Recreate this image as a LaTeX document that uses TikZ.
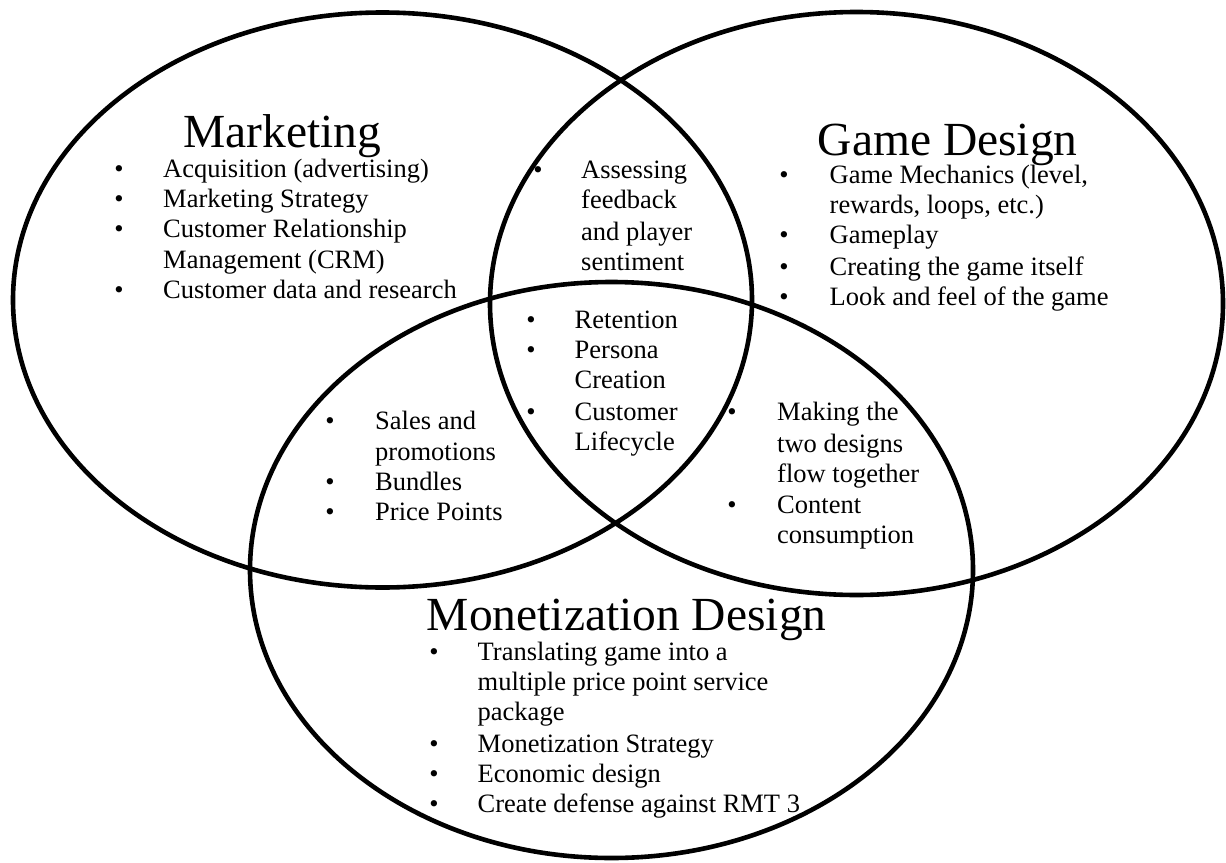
\documentclass[tikz,border=0pt]{standalone}
\usepackage{fontspec}
\setmainfont{Liberation Serif}
\begin{document}
\begin{tikzpicture}[x=1pt,y=-1pt,
  ring/.style={draw=black,line width=4.6pt},
  heading/.style={font=\fontsize{47.5}{50}\selectfont,inner sep=0pt,anchor=base west},
  entry/.style={font=\fontsize{26.5}{30}\selectfont,inner sep=0pt,anchor=base west},
  dot/.style={font=\fontsize{26.5}{30}\selectfont,inner sep=0pt,anchor=base}]
  % canvas
  \fill[white] (0,0) rectangle (1226,862);
  \useasboundingbox (0,0) rectangle (1226,862);

  % the three overlapping sets
  \draw[ring] (382.5,300) ellipse [x radius=369.5pt, y radius=287.5pt];
  \draw[ring] (856.5,303.5) ellipse [x radius=366.5pt, y radius=291.5pt];
  \draw[ring] (611.5,570) ellipse [x radius=361.5pt, y radius=288pt];

  % Marketing
  \node[heading] (mkt) at (183,147) {Marketing};
  \node[dot] (mkb1) at (119,177) {•};
  \node[entry] (mk1) at (163,177) {Acquisition (advertising)};
  \node[dot] (mkb2) at (119,207) {•};
  \node[entry] (mk2) at (163,207) {Marketing Strategy};
  \node[dot] (mkb3) at (119,237) {•};
  \node[entry] (mk3) at (163,237) {Customer Relationship};
  \node[entry] (mk3b) at (163,268) {Management (CRM)};
  \node[dot] (mkb4) at (119,298) {•};
  \node[entry] (mk4) at (163,298) {Customer data and research};

  % Game Design
  \node[heading] (gd) at (817.6,155) {Game Design};
  \node[dot] (gdb1) at (784,183) {•};
  \node[entry] (gd1) at (829.5,183) {Game Mechanics (level,};
  \node[entry] (gd1b) at (829.5,213) {rewards, loops, etc.)};
  \node[dot] (gdb2) at (784,243) {•};
  \node[entry] (gd2) at (829.5,243) {Gameplay};
  \node[dot] (gdb3) at (784,275) {•};
  \node[entry] (gd3) at (829.5,275) {Creating the game itself};
  \node[dot] (gdb4) at (784,305) {•};
  \node[entry] (gd4) at (829.5,305) {Look and feel of the game};

  % Marketing and Game Design
  \node[dot] (mgb1) at (538,178) {•};
  \node[entry] (mg1) at (581,178) {Assessing};
  \node[entry] (mg1b) at (581,208) {feedback};
  \node[entry] (mg1c) at (581,240) {and player};
  \node[entry] (mg1d) at (581,270) {sentiment};

  % all three
  \node[dot] (allb1) at (531,328) {•};
  \node[entry] (all1) at (574.5,328) {Retention};
  \node[dot] (allb2) at (531,358) {•};
  \node[entry] (all2) at (574.5,358) {Persona};
  \node[entry] (all2b) at (574.5,388) {Creation};
  \node[dot] (allb3) at (531,420) {•};
  \node[entry] (all3) at (574.5,420) {Customer};
  \node[entry] (all3b) at (574.5,450) {Lifecycle};

  % Marketing and Monetization
  \node[dot] (mmb1) at (330,429) {•};
  \node[entry] (mm1) at (375,429) {Sales and};
  \node[entry] (mm1b) at (375,460) {promotions};
  \node[dot] (mmb2) at (330,490) {•};
  \node[entry] (mm2) at (375,490) {Bundles};
  \node[dot] (mmb3) at (330,520) {•};
  \node[entry] (mm3) at (375,520) {Price Points};

  % Game Design and Monetization
  \node[dot] (gmb1) at (732,420) {•};
  \node[entry] (gm1) at (777,420) {Making the};
  \node[entry] (gm1b) at (777,452) {two designs};
  \node[entry] (gm1c) at (777,482) {flow together};
  \node[dot] (gmb2) at (732,513) {•};
  \node[entry] (gm2) at (777,513) {Content};
  \node[entry] (gm2b) at (777,543) {consumption};

  % Monetization Design
  \node[heading] (mon) at (426.6,630) {Monetization Design};
  \node[dot] (mnb1) at (434,660) {•};
  \node[entry] (mn1) at (477.5,660) {Translating game into a};
  \node[entry] (mn1b) at (477.5,690) {multiple price point service};
  \node[entry] (mn1c) at (477.5,720) {package};
  \node[dot] (mnb2) at (434,752) {•};
  \node[entry] (mn2) at (477.5,752) {Monetization Strategy};
  \node[dot] (mnb3) at (434,782) {•};
  \node[entry] (mn3) at (477.5,782) {Economic design};
  \node[dot] (mnb4) at (434,812) {•};
  \node[entry] (mn4) at (477.5,812) {Create defense against RMT 3};
\end{tikzpicture}
\end{document}
